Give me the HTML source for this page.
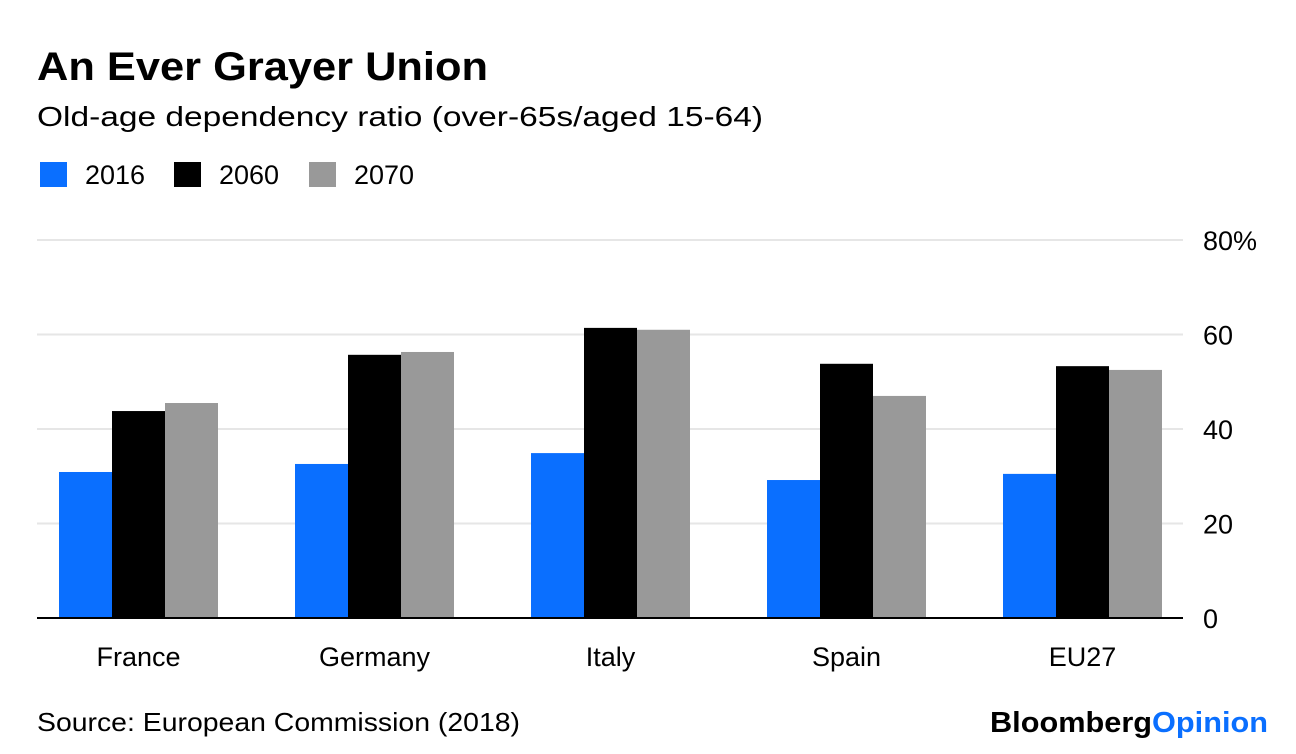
<!DOCTYPE html>
<html><head><meta charset="utf-8"><style>
body{margin:0;width:1296px;height:754px;background:#fff;overflow:hidden;font-family:"Liberation Sans",sans-serif;}
svg{position:absolute;left:0;top:0}
</style></head><body>
<svg width="1296" height="754">
<text x="37" y="80" font-size="40" font-weight="bold" fill="#000" textLength="451" lengthAdjust="spacingAndGlyphs">An Ever Grayer Union</text>
<text x="37" y="126" font-size="28" fill="#000" textLength="726" lengthAdjust="spacingAndGlyphs">Old-age dependency ratio (over-65s/aged 15-64)</text>
<g id="legend"></g>
<g id="grid"></g>
<g id="bars"></g>
<g id="xlabels"></g>
<line x1="37" x2="1183" y1="618" y2="618" stroke="#000" stroke-width="2"/>
<text x="37" y="731" font-size="26" fill="#000" textLength="483" lengthAdjust="spacingAndGlyphs">Source: European Commission (2018)</text>
<text x="990" y="732" font-size="29" font-weight="bold" textLength="278" lengthAdjust="spacingAndGlyphs"><tspan fill="#000">Bloomberg</tspan><tspan fill="#0a6fff">Opinion</tspan></text>
</svg>
<script>
const categories=["France","Germany","Italy","Spain","EU27"];
const seriesNames=["2016","2060","2070"];
const v2016=[30.9,32.6,34.9,29.2,30.5];
const v2060=[43.8,55.7,61.4,53.8,53.3];
const v2070=[45.5,56.3,61.0,47.0,52.5];
const yTicks=[0,20,40,60,80];
const yTickLabels=["0","20","40","60","80%"];
const colors=["#0a6fff","#000000","#999999"];
const NS="http://www.w3.org/2000/svg";
function y(v){return 618-(v/80)*378;}
function xc(i){return 138.5+i*236;}
function mk(t,a,p){const e=document.createElementNS(NS,t);for(const k in a)e.setAttribute(k,a[k]);document.getElementById(p).appendChild(e);return e;}
yTicks.forEach((t,i)=>{
 if(t>0){const l=mk('line',{x1:37,x2:1183,y1:y(t),y2:y(t),stroke:'#e6e6e6','stroke-width':2},'grid');
 
 }
 const tx=mk('text',{x:1203,y:y(t)+10,'font-size':27,fill:'#000'},'grid');tx.textContent=yTickLabels[i];
 
 
});
const series=[v2016,v2060,v2070];
series.forEach((s,si)=>{s.forEach((v,i)=>{
 const r=mk('rect',{x:xc(i)-79.5+si*53,y:y(v),width:53,height:618-y(v),fill:colors[si]},'bars');
 
 
});});
categories.forEach((c,i)=>{
 const t=mk('text',{x:xc(i),y:666,'font-size':27,'text-anchor':'middle',fill:'#000'},'xlabels');t.textContent=c;
 
 
});
const lx=[40,174,309];
seriesNames.forEach((n,i)=>{
 const r=mk('rect',{x:lx[i],y:162,width:27,height:25,fill:colors[i]},'legend');
 
 
 const t=mk('text',{x:lx[i]+45,y:184,'font-size':27,fill:'#000'},'legend');t.textContent=n;
 
 
});
</script>
</body></html>
